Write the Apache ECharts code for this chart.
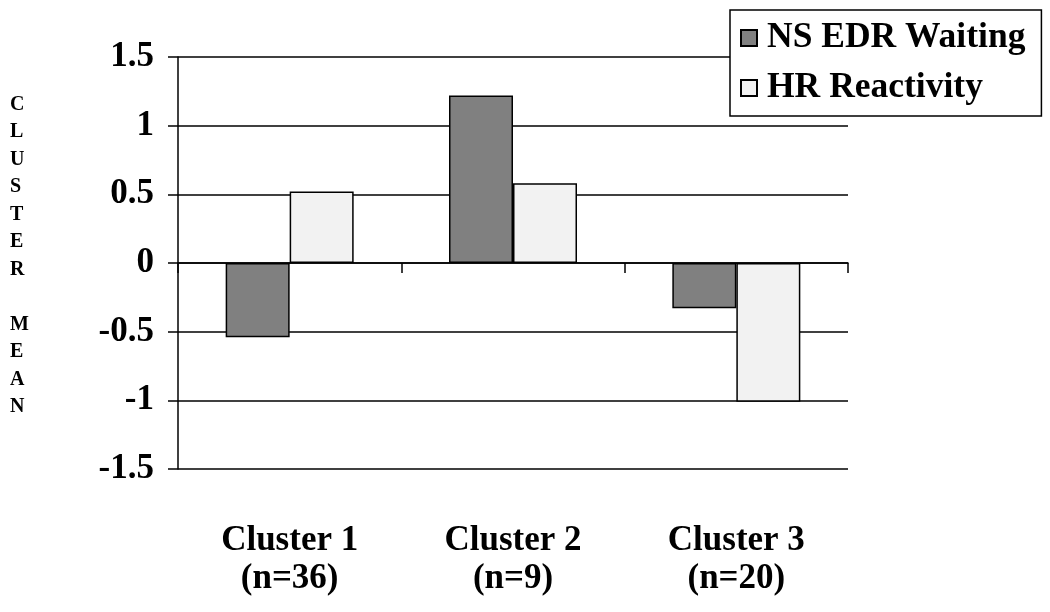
<!DOCTYPE html>
<html>
<head>
<meta charset="utf-8">
<script src="https://cdn.jsdelivr.net/npm/echarts@6/dist/echarts.min.js"></script>
<style>html,body{margin:0;padding:0;background:#fff}#c{width:1050px;height:612px}</style>
</head>
<body>
<div id="c"></div>
<script>
const categories = ['Cluster 1\n(n=36)', 'Cluster 2\n(n=9)', 'Cluster 3\n(n=20)'];
const seriesNames = ['NS EDR Waiting', 'HR Reactivity'];
const nsEdrWaiting = [-0.54, 1.22, -0.33];
const hrReactivity = [0.52, 0.58, -1.01];
const yTicks = [-1.5, -1, -0.5, 0, 0.5, 1, 1.5];
const axisTitle = 'CLUSTER MEAN';

const FONT = '"Liberation Serif", "Times New Roman", serif';
const chart = echarts.init(document.getElementById('c'), null, {renderer: 'canvas'});
const border = {borderColor: '#000', borderWidth: 1.5};

chart.setOption({
  animation: false,
  backgroundColor: '#fff',
  grid: {left: 178, right: 202, top: 57, bottom: 143, containLabel: false},
  legend: {
    orient: 'vertical', left: 730, top: 10,
    padding: [9, 16, 9, 10],
    itemGap: 12, itemWidth: 16, itemHeight: 16,
    borderColor: '#000', borderWidth: 1.5, backgroundColor: '#fff',
    icon: 'rect',
    data: seriesNames,
    textStyle: {fontFamily: FONT, fontWeight: 'bold', fontSize: 35.5, color: '#000', lineHeight: 38, padding: [0, 0, 0, 5]}
  },
  graphic: [{
    type: 'text', left: 10, top: 91,
    style: {
      text: axisTitle.split('').join('\n'),
      fontFamily: FONT, fontWeight: 'bold', fontSize: 20, lineHeight: 27.5,
      fill: '#000', align: 'center', width: 20
    }
  }],
  xAxis: [{
    type: 'category', data: categories,
    axisLine: {onZero: true, lineStyle: {color: '#000', width: 1.5}},
    axisTick: {show: true, length: 10, lineStyle: {color: '#000', width: 1.5}},
    axisLabel: {show: false},
    splitLine: {show: false}
  }, {
    type: 'category', data: categories, position: 'bottom',
    axisLine: {show: false, onZero: false},
    axisTick: {show: false},
    axisLabel: {show: true, margin: 53, fontFamily: FONT, fontWeight: 'bold', fontSize: 35, color: '#000', lineHeight: 38},
    splitLine: {show: false}
  }],
  yAxis: {
    type: 'value', min: -1.5, max: 1.5, interval: 0.5,
    axisLine: {show: true, lineStyle: {color: '#000', width: 1.5}},
    axisTick: {show: true, length: 10, lineStyle: {color: '#000', width: 1.5}},
    axisLabel: {
      margin: 24, fontFamily: FONT, fontWeight: 'bold', fontSize: 35, color: '#000',
      formatter: v => { const t = yTicks.find(x => Math.abs(x - v) < 1e-9); return t === undefined ? '' : String(t); }
    },
    splitLine: {show: true, lineStyle: {color: '#000', width: 1.5}}
  },
  series: [{
    name: seriesNames[0], type: 'bar', data: nsEdrWaiting, xAxisIndex: 0,
    barWidth: 64, barGap: '0%',
    itemStyle: Object.assign({color: '#808080'}, border)
  }, {
    name: seriesNames[1], type: 'bar', data: hrReactivity, xAxisIndex: 0,
    barWidth: 64, barGap: '0%',
    itemStyle: Object.assign({color: '#f2f2f2'}, border)
  }]
});
</script>
</body>
</html>
